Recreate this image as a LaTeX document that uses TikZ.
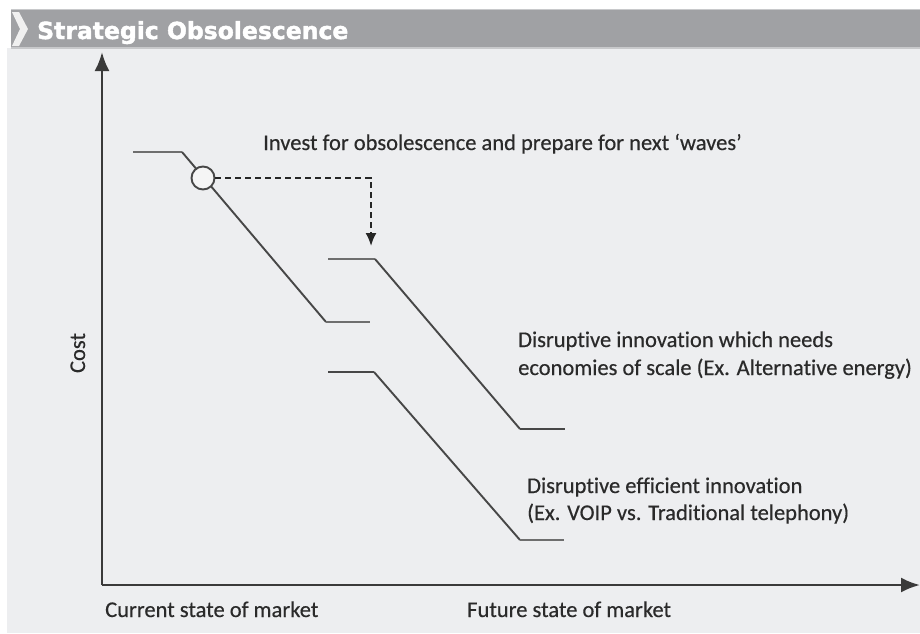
\documentclass[tikz,border=0pt]{standalone}
\usepackage{fontspec}
\setmainfont{Carlito}[RawFeature=-liga, FakeBold=0.4]
\newfontfamily\titlefont{DejaVu Sans}[FakeBold=1.8]
\usetikzlibrary{arrows.meta}
\definecolor{panelbg}{HTML}{EDEEF0}
\definecolor{barbg}{HTML}{A0A1A4}
\definecolor{barline}{HTML}{C8C9CB}
\definecolor{axiscol}{HTML}{3A3A3A}
\definecolor{linecol}{HTML}{474747}
\definecolor{lightline}{HTML}{6E6E6E}
\definecolor{txtcol}{HTML}{2A2A2A}
\tikzset{
  axisline/.style={draw=axiscol, line width=2.6pt, -{Latex[length=19pt,width=15pt]}},
  curveline/.style={draw=linecol, line width=1.9pt},
  flatline/.style={draw=lightline, line width=2pt},
  lbl/.style={text=txtcol, font=\fontsize{22.5}{27}\selectfont, inner sep=0pt, anchor=base west},
  marker/.style={circle, draw=linecol, line width=1.9pt, fill=white!96!black, minimum size=23pt, inner sep=0pt},
  dashline/.style={draw=black!85, line width=2pt, dash pattern=on 6pt off 4pt, -{Latex[length=13pt,width=11pt]}}
}
\begin{document}
\begin{tikzpicture}[x=1pt,y=-1pt]
\useasboundingbox (0,0) rectangle (920,633);
\fill[white] (0,0) rectangle (920,633);
% panel and title bar
\fill[panelbg] (7,48) rectangle (920,633);
\fill[barline] (11,8.8) rectangle (920,10.2);
\fill[barbg] (11,10) rectangle (920,47);
\fill[barline] (11,46.5) rectangle (920,48.5);
\fill[white!94!black] (12,12) -- (19,12) -- (28,29) -- (19,46) -- (12,46) -- (20,29) -- cycle;
\node[anchor=base west, inner sep=0pt, text=white, font=\titlefont\bfseries\fontsize{23.5}{27}\selectfont] (title) at (37,39) {Strategic Obsolescence};
% axes
\coordinate (origin) at (102,585);
\coordinate (ytip) at (102,52);
\coordinate (xtip) at (920,585);
\draw[axisline] (origin) -- (ytip);
\draw[axisline] (origin) -- (xtip);
% current curve
\coordinate (a1) at (133,152);
\coordinate (a2) at (182,152);
\coordinate (a3) at (326,322);
\coordinate (a4) at (370,322);
\draw[flatline] (a1) -- (a2);
\draw[curveline] (a2) -- (a3);
\draw[flatline] (a3) -- (a4);
% upper future curve
\coordinate (b1) at (328,259);
\coordinate (b2) at (375,259);
\coordinate (b3) at (520,429);
\coordinate (b4) at (565,429);
\draw[flatline] (b1) -- (b2);
\draw[curveline] (b2) -- (b3);
\draw[curveline] (b3) -- (b4);
% lower future curve
\coordinate (c1) at (328,372);
\coordinate (c2) at (374,372);
\coordinate (c3) at (520,540);
\coordinate (c4) at (564,540);
\draw[curveline] (c1) -- (c2);
\draw[curveline] (c2) -- (c3);
\draw[flatline] (c3) -- (c4);
% marker and dashed arrow
\node[marker] (mk) at (203,178) {};
\coordinate (dtip) at (371,246);
\draw[dashline] (mk.east) -| (dtip);
% labels
\node[lbl] (invest) at (263,150) {Invest for obsolescence and prepare for next ‘waves’};
\node[lbl] (d1a) at (518,347) {Disruptive innovation which needs};
\node[lbl] (d1b) at (518,375) {economies of scale (Ex. Alternative energy)};
\node[lbl] (d2a) at (527,493) {Disruptive efficient innovation};
\node[lbl] (d2b) at (527,520) {(Ex. VOIP vs. Traditional telephony)};
\node[lbl] (cur) at (105,617) {Current state of market};
\node[lbl] (fut) at (467,617) {Future state of market};
\node[lbl, anchor=base, rotate=90] (cost) at (85,353) {Cost};
\end{tikzpicture}
\end{document}
